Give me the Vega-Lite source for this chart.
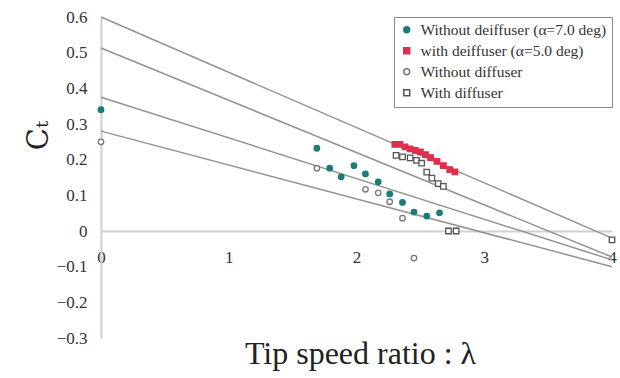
{
  "$schema": "https://vega.github.io/schema/vega-lite/v6.json",
  "autosize": "none",
  "width": 511,
  "height": 321,
  "padding": {"left": 101, "top": 17, "right": 8, "bottom": 40},
  "background": "white",
  "config": {
    "view": {"stroke": null},
    "font": "Liberation Serif",
    "axis": {"labelOverlap": false, "labelFlush": false, "labelFontSize": 17, "labelColor": "#333", "labelFont": "Liberation Serif", "grid": false, "ticks": false},
    "legend": {"labelFont": "Liberation Serif", "labelFontSize": 15.5, "labelColor": "#333", "labelLimit": 300}
  },
  "datasets": {
    "lines": [
      {"line": "L1", "x": 0, "y": 0.6},
      {"line": "L1", "x": 4, "y": -0.02},
      {"line": "L2", "x": 0, "y": 0.513},
      {"line": "L2", "x": 4, "y": -0.073},
      {"line": "L3", "x": 0, "y": 0.375},
      {"line": "L3", "x": 4, "y": -0.081},
      {"line": "L4", "x": 0, "y": 0.28},
      {"line": "L4", "x": 4, "y": -0.1}
    ],
    "points": [
      {"series": "Without deiffuser (α=7.0 deg)", "x": 0, "y": 0.34},
      {"series": "Without deiffuser (α=7.0 deg)", "x": 1.69, "y": 0.232},
      {"series": "Without deiffuser (α=7.0 deg)", "x": 1.79, "y": 0.176},
      {"series": "Without deiffuser (α=7.0 deg)", "x": 1.88, "y": 0.152},
      {"series": "Without deiffuser (α=7.0 deg)", "x": 1.98, "y": 0.183},
      {"series": "Without deiffuser (α=7.0 deg)", "x": 2.07, "y": 0.16},
      {"series": "Without deiffuser (α=7.0 deg)", "x": 2.17, "y": 0.138},
      {"series": "Without deiffuser (α=7.0 deg)", "x": 2.26, "y": 0.104},
      {"series": "Without deiffuser (α=7.0 deg)", "x": 2.36, "y": 0.08},
      {"series": "Without deiffuser (α=7.0 deg)", "x": 2.45, "y": 0.053},
      {"series": "Without deiffuser (α=7.0 deg)", "x": 2.55, "y": 0.042},
      {"series": "Without deiffuser (α=7.0 deg)", "x": 2.65, "y": 0.051},
      {"series": "with deiffuser (α=5.0 deg)", "x": 2.3, "y": 0.243},
      {"series": "with deiffuser (α=5.0 deg)", "x": 2.34, "y": 0.243},
      {"series": "with deiffuser (α=5.0 deg)", "x": 2.38, "y": 0.236},
      {"series": "with deiffuser (α=5.0 deg)", "x": 2.42, "y": 0.23},
      {"series": "with deiffuser (α=5.0 deg)", "x": 2.46, "y": 0.226},
      {"series": "with deiffuser (α=5.0 deg)", "x": 2.5, "y": 0.222},
      {"series": "with deiffuser (α=5.0 deg)", "x": 2.54, "y": 0.214},
      {"series": "with deiffuser (α=5.0 deg)", "x": 2.58, "y": 0.206},
      {"series": "with deiffuser (α=5.0 deg)", "x": 2.63, "y": 0.195},
      {"series": "with deiffuser (α=5.0 deg)", "x": 2.68, "y": 0.183},
      {"series": "with deiffuser (α=5.0 deg)", "x": 2.73, "y": 0.172},
      {"series": "with deiffuser (α=5.0 deg)", "x": 2.77, "y": 0.166},
      {"series": "Without diffuser", "x": 0, "y": 0.25},
      {"series": "Without diffuser", "x": 1.69, "y": 0.176},
      {"series": "Without diffuser", "x": 2.07, "y": 0.117},
      {"series": "Without diffuser", "x": 2.17, "y": 0.107},
      {"series": "Without diffuser", "x": 2.26, "y": 0.082},
      {"series": "Without diffuser", "x": 2.36, "y": 0.036},
      {"series": "Without diffuser", "x": 2.45, "y": -0.076},
      {"series": "With diffuser", "x": 2.31, "y": 0.212},
      {"series": "With diffuser", "x": 2.36, "y": 0.208},
      {"series": "With diffuser", "x": 2.42, "y": 0.205},
      {"series": "With diffuser", "x": 2.47, "y": 0.198},
      {"series": "With diffuser", "x": 2.51, "y": 0.19},
      {"series": "With diffuser", "x": 2.55, "y": 0.165},
      {"series": "With diffuser", "x": 2.59, "y": 0.148},
      {"series": "With diffuser", "x": 2.64, "y": 0.133},
      {"series": "With diffuser", "x": 2.68, "y": 0.125},
      {"series": "With diffuser", "x": 2.72, "y": 0.0},
      {"series": "With diffuser", "x": 2.78, "y": 0.0},
      {"series": "With diffuser", "x": 4, "y": -0.025}
    ]
  },
  "encoding": {
    "x": {
      "field": "x", "type": "quantitative",
      "scale": {"domain": [0, 4], "nice": false},
      "axis": {
        "title": "Tip speed ratio : λ",
        "values": [0, 1, 2, 3, 4],
        "format": "d",
        "offset": -107,
        "domainColor": "#cfcfcf",
        "domainWidth": 2,
        "labelPadding": 18,
        "labelOverlap": false,
        "labelFlush": false,
        "titleFont": "Liberation Serif",
        "titleFontSize": 32,
        "titleFontWeight": "normal",
        "titleColor": "#222",
        "titlePadding": 73,
        "titleX": 259
      }
    },
    "y": {
      "field": "y", "type": "quantitative",
      "scale": {"domain": [-0.3, 0.6], "nice": false, "zero": false},
      "axis": {
        "title": "Cₜ",
        "values": [-0.3, -0.2, -0.1, 0, 0.1, 0.2, 0.3, 0.4, 0.5, 0.6],
        "format": ".1~f",
        "domainColor": "#cfcfcf",
        "domainWidth": 2,
        "labelPadding": 14,
        "labelOverlap": false,
        "labelFlush": false,
        "titleFont": "DejaVu Serif",
        "titleFontSize": 29,
        "titleFontWeight": "normal",
        "titleColor": "#222",
        "titleY": 118,
        "titlePadding": 3
      }
    }
  },
  "layer": [
    {
      "data": {"name": "lines"},
      "mark": {"type": "line", "color": "#939393", "strokeWidth": 1.5},
      "encoding": {
        "detail": {"field": "line"}
      }
    },
    {
      "data": {"name": "points"},
      "mark": {"type": "point", "filled": false, "strokeWidth": 1.3, "opacity": 1},
      "encoding": {
        "shape": {
          "field": "series", "type": "nominal",
          "scale": {
            "domain": ["Without deiffuser (α=7.0 deg)", "with deiffuser (α=5.0 deg)", "Without diffuser", "With diffuser"],
            "range": ["circle", "square", "circle", "square"]
          },
          "legend": {
            "orient": "top-right",
            "title": "",
            "offset": 0,
            "strokeColor": "#888",
            "padding": 5,
            "rowPadding": 4,
            "symbolSize": 35,
            "labelOffset": 6,
            "labelFont": "Liberation Serif",
            "labelFontSize": 15.5
          }
        },
        "fill": {
          "field": "series", "type": "nominal",
          "scale": {
            "domain": ["Without deiffuser (α=7.0 deg)", "with deiffuser (α=5.0 deg)", "Without diffuser", "With diffuser"],
            "range": ["#1c7c78", "#dd2f4b", "#ffffff", "#ffffff"]
          }
        },
        "stroke": {
          "field": "series", "type": "nominal",
          "scale": {
            "domain": ["Without deiffuser (α=7.0 deg)", "with deiffuser (α=5.0 deg)", "Without diffuser", "With diffuser"],
            "range": ["#1c7c78", "#dd2f4b", "#777777", "#555555"]
          }
        }
      }
    }
  ]
}
